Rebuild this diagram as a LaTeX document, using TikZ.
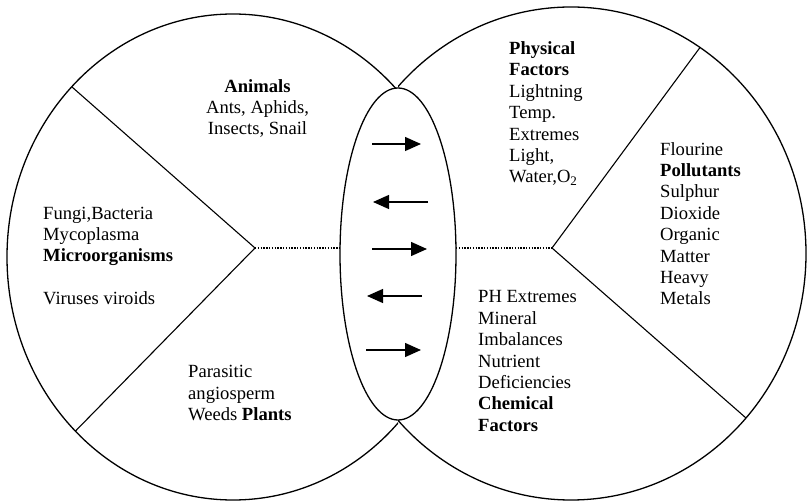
\documentclass[tikz,border=0pt]{standalone}
\usepackage{fontspec}
\setmainfont{Liberation Serif}
\usetikzlibrary{arrows.meta}
\begin{document}
\begin{tikzpicture}[x=1pt,y=-1pt,
  outline/.style={line width=1.3pt},
  divider/.style={line width=1.1pt},
  dotline/.style={line width=1.6pt, dash pattern=on 1.3pt off 1.5pt},
  flow/.style={line width=1.3pt, -{Triangle[length=16pt,width=14pt]}},
  lbl/.style={inner sep=0pt, font=\fontsize{18.6}{21.4}\selectfont, align=left},
]
\useasboundingbox (0,0) rectangle (808,502);
% big circles
\begin{scope}
  \clip (0,0) rectangle (398,502);
  \draw[outline] (233,257) ellipse [x radius=226pt, y radius=243pt];
\end{scope}
\begin{scope}
  \clip (398,0) rectangle (808,502);
  \draw[outline] (571,253.5) ellipse [x radius=235pt, y radius=246.5pt];
\end{scope}
% middle ellipse
\draw[outline, fill=white] (398,254) ellipse [x radius=58pt, y radius=166pt];
% hubs and dividers
\coordinate (lhub) at (255,248);
\coordinate (rhub) at (552,248);
\coordinate (lup) at (72,87);
\coordinate (llow) at (75.5,431);
\coordinate (rup) at (700,47.5);
\coordinate (rlow) at (746,418);
\coordinate (eleft) at (340,248);
\coordinate (eright) at (456,248);
\draw[divider] (lup) -- (lhub) -- (llow);
\draw[divider] (rup) -- (rhub) -- (rlow);
\draw[dotline] (lhub) -- (eleft);
\draw[dotline] (eright) -- (rhub);
% arrows
\coordinate (a1s) at (372,144); \coordinate (a1e) at (421,144);
\coordinate (a2s) at (428,202); \coordinate (a2e) at (373,202);
\coordinate (a3s) at (372,249); \coordinate (a3e) at (427,249);
\coordinate (a4s) at (422,296); \coordinate (a4e) at (367,296);
\coordinate (a5s) at (366,350); \coordinate (a5e) at (421,350);
\draw[flow] (a1s) -- (a1e);
\draw[flow] (a2s) -- (a2e);
\draw[flow] (a3s) -- (a3e);
\draw[flow] (a4s) -- (a4e);
\draw[flow] (a5s) -- (a5e);
% texts
\node[lbl, align=center, anchor=north] (animals) at (257.5,76)
  {\rule{0pt}{16pt}\textbf{Animals}\\Ants, Aphids,\\Insects, Snail};
\node[lbl, anchor=north west] (micro) at (43,203)
  {\rule{0pt}{16pt}Fungi,Bacteria\\Mycoplasma\\\textbf{Microorganisms}\\[21.4pt]Viruses viroids};
\node[lbl, anchor=north west] (plants) at (188,361.7)
  {\rule{0pt}{16pt}Parasitic\\angiosperm\\Weeds \textbf{Plants}};
\node[lbl, anchor=north west] (physical) at (509,38.3)
  {\rule{0pt}{16pt}\textbf{Physical}\\\textbf{Factors}\\Lightning\\Temp.\\Extremes\\Light,\\Water,O\textsubscript{2}};
\node[lbl, anchor=north west] (pollut) at (660,139)
  {\rule{0pt}{16pt}Flourine\\\textbf{Pollutants}\\Sulphur\\Dioxide\\Organic\\Matter\\Heavy\\Metals};
\node[lbl, anchor=north west] (chem) at (478,286.7)
  {\rule{0pt}{16pt}PH Extremes\\Mineral\\Imbalances\\Nutrient\\Deficiencies\\\textbf{Chemical}\\\textbf{Factors}};
\end{tikzpicture}
\end{document}
